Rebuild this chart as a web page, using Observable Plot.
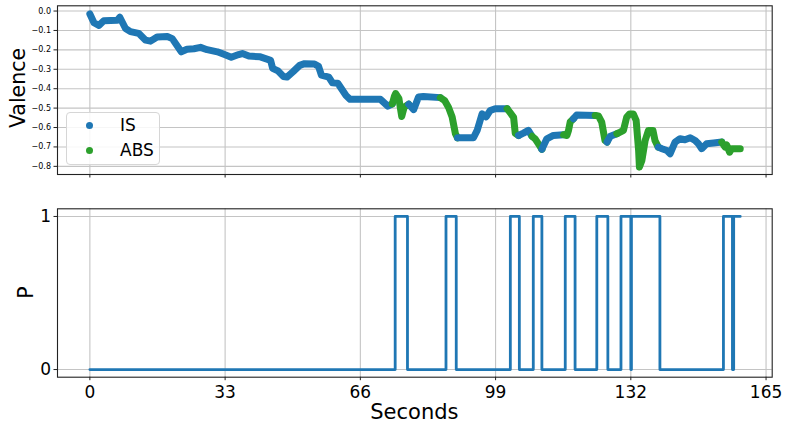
<!DOCTYPE html>
<html><head><meta charset="utf-8">
<script src="https://cdn.jsdelivr.net/npm/d3@7"></script>
<script src="https://cdn.jsdelivr.net/npm/@observablehq/plot@0.6"></script>
<style>
body{margin:0;background:#fff;}
#wrap{position:relative;width:789px;height:430px;font-family:"DejaVu Sans",sans-serif;overflow:hidden;background:#fff;}
#topPanel,#botPanel{position:absolute;left:0;}
#topPanel{top:0;}
#botPanel{top:190px;}
#legend{position:absolute;left:66px;top:111.5px;width:94px;height:53px;box-sizing:border-box;border:1px solid #d6d6d6;border-radius:4px;background:rgba(255,255,255,0.85);}
.lg-dot{position:absolute;width:7px;height:7px;border-radius:50%;}
.lg-txt{position:absolute;font-family:"DejaVu Sans";font-size:17px;color:#000;line-height:20px;white-space:nowrap;}
</style></head><body>
<div id="wrap"><div id="topPanel"></div><div id="botPanel"></div><div id="legend"></div></div>
<script>
// ---------- data ----------
const xTicks = [0, 33, 66, 99, 132, 165];
const valenceTicks = [0, -0.1, -0.2, -0.3, -0.4, -0.5, -0.6, -0.7, -0.8];
const pTicks = [0, 1];
const seriesNames = ["IS", "ABS"];
const seriesColors = ["#1f77b4", "#2ca02c"];

// valence trace (seconds, valence)
const vTime = [
  0, 1.0, 2.2, 3.4, 6.7, 7.3, 8.7, 9.9, 11.9, 13.6, 14.8, 16.4, 18.9, 20.1, 22.3,
  23.7, 25.4, 27.0, 28.6, 31.1, 32.7, 34.5, 36.3, 37.2, 38.8, 41.6, 44.1, 44.6, 45.9, 47.2,
  48.1, 49.6, 51.2, 52.4, 54.8, 55.8, 56.5, 58.3, 59.2, 60.5, 62.5, 63.5, 70.9, 72.7, 73.8,
  74.3, 74.6, 75.4, 76.1, 76.7, 77.8,
  79.0, 80.2, 81.4, 85.5,
  86.6, 87.5, 88.4, 89.2, 89.7,
  93.6, 94.5, 95.7, 96.7, 97.7, 98.9, 101.8,
  102.6, 103.4, 103.8, 104.6,
  105.8, 107.0, 107.9,
  108.7, 109.7, 110.3,
  111.5, 113.1, 115.6,
  116.4, 116.8, 117.2, 118.0,
  118.8, 123.3,
  124.1, 124.9, 125.7, 126.2,
  127.0, 128.6,
  129.4, 130.2, 131.0, 131.7, 132.6, 133.3, 133.9, 134.1, 134.7, 135.5, 136.3, 137.4, 137.9, 138.7,
  139.6, 140.8, 141.6, 142.8, 144.0, 145.2, 146.5, 147.7, 148.5, 149.3, 150.5, 152.2, 154.2,
  155.0, 155.4, 156.1, 156.6, 158.7
];
const vValence = [
  -0.015, -0.060, -0.074, -0.050, -0.048, -0.032, -0.090, -0.106, -0.115, -0.150, -0.155, -0.134, -0.131, -0.142, -0.210,
  -0.197, -0.194, -0.187, -0.199, -0.210, -0.223, -0.238, -0.224, -0.219, -0.232, -0.236, -0.254, -0.295, -0.308, -0.337,
  -0.340, -0.312, -0.280, -0.271, -0.273, -0.285, -0.330, -0.340, -0.370, -0.372, -0.435, -0.455, -0.455, -0.490, -0.478,
  -0.440, -0.425, -0.450, -0.543, -0.495, -0.480,
  -0.508, -0.443, -0.440, -0.446,
  -0.462, -0.495, -0.546, -0.632, -0.653,
  -0.653, -0.615, -0.530, -0.545, -0.512, -0.503, -0.503,
  -0.525, -0.548, -0.630, -0.641,
  -0.629, -0.615, -0.645,
  -0.660, -0.692, -0.712,
  -0.658, -0.641, -0.637,
  -0.641, -0.615, -0.572, -0.555,
  -0.535, -0.538,
  -0.540, -0.572, -0.667, -0.675,
  -0.645, -0.632,
  -0.624, -0.615, -0.546, -0.530, -0.530, -0.563, -0.718, -0.804, -0.770, -0.667, -0.615, -0.615, -0.667, -0.701,
  -0.709, -0.718, -0.735, -0.675, -0.658, -0.663, -0.653, -0.667, -0.684, -0.709, -0.684, -0.680, -0.675,
  -0.701, -0.690, -0.727, -0.709, -0.709
];
// consecutive runs of the valence trace: state and number of points
const runState  = ["IS","ABS","IS","ABS","IS","ABS","IS","ABS","IS","ABS","IS","ABS","IS","ABS","IS","ABS"];
const runLength = [45, 6, 4, 5, 7, 4, 3, 3, 3, 4, 2, 4, 2, 14, 13, 5];

// P step signal (seconds, value)
const pTime  = [0, 74.5, 77.5, 86.9, 89.4, 102.6, 104.8, 108.2, 110.3, 116.0, 118.4, 123.7, 126.4, 129.6, 132.0, 132.15, 139.1, 154.6, 156.8, 157.1, 158.7];
const pValue = [0, 1, 0, 1, 0, 1, 0, 1, 0, 1, 0, 1, 0, 1, 0, 1, 0, 1, 0, 1, 1];

// ---------- build tables ----------
const vRows = [];
{
  let i = 0;
  runLength.forEach((n, r) => {
    if (r > 0) vRows.push({t: vTime[i - 1], v: vValence[i - 1], state: runState[r], seg: r});
    for (let k = 0; k < n; k++, i++) vRows.push({t: vTime[i], v: vValence[i], state: runState[r], seg: r});
  });
}
const pRows = pTime.map((t, i) => ({t, p: pValue[i]}));

const xDomain = [-7.9, 166.5];
const gridStyle = {stroke: "#c4c4c4", strokeOpacity: 1, strokeWidth: 1.1};
const fmtV = d => d === 0 ? "0.0" : "\u2212" + Math.abs(d).toFixed(1);

// ---------- top panel ----------
const topPlot = Plot.plot({
  width: 789, height: 190,
  marginLeft: 57, marginRight: 17.3, marginTop: 5.3, marginBottom: 16,
  style: {fontFamily: "DejaVu Sans", background: "transparent", overflow: "visible"},
  x: {domain: xDomain},
  y: {domain: [-0.842, 0.027]},
  color: {domain: seriesNames, range: seriesColors},
  marks: [
    Plot.gridX(xTicks, gridStyle),
    Plot.gridY(valenceTicks, gridStyle),
    Plot.line(vRows, {x: "t", y: "v", z: "seg", stroke: "state", strokeWidth: 7, strokeLinecap: "round", strokeLinejoin: "round"}),
    Plot.axisX(xTicks, {tickSize: 3.5, tickFormat: () => "", label: null, stroke: "#222"}),
    Plot.axisY(valenceTicks, {tickSize: 3.5, tickPadding: 3, fontSize: 8, tickFormat: fmtV, label: null, stroke: "#222"}),
    Plot.frame({stroke: "#222", strokeWidth: 1.1})
  ]
});
document.getElementById("topPanel").appendChild(topPlot);
d3.select(topPlot).append("text")
  .attr("transform", "translate(24.5,88) rotate(-90)")
  .attr("text-anchor", "middle")
  .attr("font-family", "DejaVu Sans").attr("font-size", 20.5).attr("fill", "#000")
  .text("Valence");

// ---------- bottom panel ----------
const botPlot = Plot.plot({
  width: 789, height: 240,
  marginLeft: 57, marginRight: 17.3, marginTop: 18.3, marginBottom: 53.3,
  style: {fontFamily: "DejaVu Sans", background: "transparent", overflow: "visible"},
  x: {domain: xDomain},
  y: {domain: [-0.05, 1.05]},
  marks: [
    Plot.gridX(xTicks, gridStyle),
    Plot.gridY(pTicks, gridStyle),
    Plot.line(pRows, {x: "t", y: "p", curve: "step-after", stroke: seriesColors[0], strokeWidth: 2.8}),
    Plot.axisX(xTicks, {tickSize: 3.5, tickPadding: 5, fontSize: 17, label: null, stroke: "#222"}),
    Plot.axisY(pTicks, {tickSize: 3.5, tickPadding: 3, fontSize: 17, tickFormat: d => String(d), label: null, stroke: "#222"}),
    Plot.frame({stroke: "#222", strokeWidth: 1.1})
  ]
});
document.getElementById("botPanel").appendChild(botPlot);
d3.select(botPlot).append("text")
  .attr("transform", "translate(33,102.5) rotate(-90)")
  .attr("text-anchor", "middle")
  .attr("font-family", "DejaVu Sans").attr("font-size", 20.5).attr("fill", "#000")
  .text("P");
d3.select(botPlot).append("text")
  .attr("x", 414.4).attr("y", 229.3)
  .attr("text-anchor", "middle")
  .attr("font-family", "DejaVu Sans").attr("font-size", 21).attr("fill", "#000")
  .text("Seconds");

// ---------- legend ----------
const legend = document.getElementById("legend");
seriesNames.forEach((name, i) => {
  const dot = document.createElement("div");
  dot.className = "lg-dot";
  dot.style.background = seriesColors[i];
  dot.style.left = (89.3 - 66 - 1 - 3.5) + "px";
  dot.style.top = (125 + 25 * i - 111.5 - 1 - 3.5) + "px";
  legend.appendChild(dot);
  const txt = document.createElement("div");
  txt.className = "lg-txt";
  txt.textContent = name;
  txt.style.left = (120 - 66 - 1) + "px";
  txt.style.top = (125 + 25 * i - 111.5 - 1 - 10) + "px";
  legend.appendChild(txt);
});
</script>
</body></html>
